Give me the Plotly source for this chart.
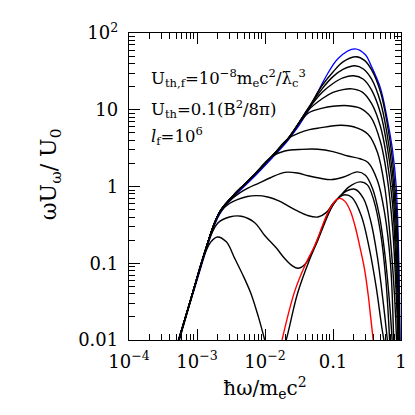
import plotly.graph_objects as go

# ---------------- data ----------------
# shared steep low-energy rise of the black curves
ramp_x = [5.4e-4, 8.7e-4, 1.37e-3, 1.8e-3, 2.27e-3, 3.5e-3, 6.3e-3, 0.0125, 0.0218]
ramp_y = [0.01, 0.042, 0.16, 0.33, 0.5, 0.78, 1.3, 2.45, 4.2]

blue_x = [5.3e-4, 8.7e-4, 1.37e-3, 1.8e-3, 2.27e-3, 3.5e-3, 6.3e-3, 0.0125, 0.0218, 0.043,
          0.075, 0.12, 0.21, 0.3, 0.366, 0.5, 0.62, 0.75, 0.85, 0.92, 0.97]
blue_y = [0.01, 0.04, 0.15, 0.31, 0.47, 0.74, 1.23, 2.32, 3.98, 9.6,
          25, 47, 62, 52, 37, 19, 8, 3, 1.0, 0.15, 0.01]

red_x = [0.0178, 0.0273, 0.04, 0.054, 0.0845, 0.11, 0.126, 0.15, 0.18, 0.21,
         0.25, 0.29, 0.33, 0.36, 0.39]
red_y = [0.01, 0.043, 0.1, 0.17, 0.46, 0.66, 0.70, 0.64, 0.48, 0.31,
         0.16, 0.085, 0.038, 0.019, 0.01]

k1_x = ramp_x + [0.043, 0.07, 0.1, 0.14, 0.22, 0.29, 0.37, 0.5, 0.62, 0.75, 0.88, 0.955]
k1_y = ramp_y + [10.4, 21, 31, 42, 49, 44, 33, 17, 7, 2.2, 0.3, 0.01]
k2_x = ramp_x + [0.043, 0.07, 0.1, 0.14, 0.21, 0.28, 0.37, 0.5, 0.62, 0.75, 0.87, 0.945]
k2_y = ramp_y + [10.3, 19, 27, 33.5, 37.4, 34, 25, 12.5, 5, 1.5, 0.2, 0.01]
k3_x = ramp_x + [0.043, 0.07, 0.1, 0.14, 0.2, 0.28, 0.37, 0.5, 0.62, 0.75, 0.86, 0.935]
k3_y = ramp_y + [10.1, 17, 22, 26, 27.7, 25, 18, 9, 3.5, 1.0, 0.12, 0.01]
k4_x = ramp_x + [0.043, 0.07, 0.1, 0.14, 0.19, 0.27, 0.37, 0.5, 0.62, 0.75, 0.85, 0.92]
k4_y = ramp_y + [9.8, 14, 16.8, 18.3, 18.7, 17, 12, 6, 2.3, 0.6, 0.08, 0.01]
k5_x = ramp_x + [0.043, 0.07, 0.1, 0.165, 0.25, 0.36, 0.5, 0.62, 0.75, 0.85, 0.9]
k5_y = ramp_y + [9.0, 10.5, 11.1, 11.3, 10.5, 8.0, 3.8, 1.4, 0.3, 0.04, 0.01]
k6_x = ramp_x + [0.032, 0.045, 0.067, 0.095, 0.132, 0.2, 0.327, 0.45, 0.575, 0.7, 0.8, 0.86]
k6_y = ramp_y + [5.0, 5.5, 5.84, 6.15, 6.27, 6.0, 4.8, 2.8, 1.0, 0.2, 0.04, 0.01]
k7_x = ramp_x[:8] + [0.0195, 0.035, 0.06, 0.1, 0.166, 0.25, 0.327, 0.45, 0.575, 0.7, 0.78]
k7_y = ramp_y[:8] + [2.9, 3.05, 3.06, 2.85, 2.5, 2.3, 2.06, 1.2, 0.45, 0.1, 0.01]
k8_x = ramp_x[:5] + [3.2e-3, 4.2e-3, 5.6e-3, 8e-3, 0.012, 0.0195, 0.03, 0.043, 0.065, 0.094,
                     0.14, 0.23, 0.3, 0.38, 0.48, 0.58, 0.68, 0.74]
k8_y = ramp_y[:5] + [0.68, 0.82, 0.95, 1.1, 1.3, 1.53, 1.5, 1.38, 1.28, 1.23,
                     1.32, 1.55, 1.4, 0.95, 0.42, 0.13, 0.03, 0.01]
k9_x = ramp_x[:4] + [2.27e-3, 3e-3, 4e-3, 5.5e-3, 7.5e-3, 0.011, 0.016, 0.0218, 0.03, 0.042,
                     0.06, 0.08, 0.1, 0.125, 0.17, 0.25, 0.32, 0.4, 0.5, 0.6, 0.68]
k9_y = ramp_y[:4] + [0.48, 0.6, 0.68, 0.74, 0.76, 0.73, 0.65, 0.56, 0.48, 0.42,
                     0.40, 0.46, 0.6, 0.73, 0.98, 1.15, 1.05, 0.65, 0.25, 0.06, 0.01]
k10_x = ramp_x[:3] + [2e-3, 3e-3, 4.5e-3, 7e-3, 0.0099, 0.0145, 0.0195, 0.025, 0.031, 0.04,
                      0.06, 0.085, 0.125, 0.16, 0.21, 0.28, 0.36, 0.45, 0.55, 0.63]
k10_y = ramp_y[:3] + [0.33, 0.40, 0.41, 0.34, 0.23, 0.16, 0.115, 0.093, 0.086, 0.1,
                      0.21, 0.45, 0.74, 0.88, 0.92, 0.7, 0.35, 0.12, 0.03, 0.01]
# lowest black curve: low-energy hump, then it dips out of the frame and returns
k11_x = [5.5e-4, 8.7e-4, 1.2e-3, 1.6e-3, 2.0e-3, 2.7e-3, 3.6e-3, 5e-3, 6.3e-3, 8e-3, 0.0099, 0.012,
         None,
         0.017, 0.0205, 0.03, 0.045, 0.06, 0.085, 0.105, 0.125, 0.15, 0.19, 0.26, 0.34, 0.43, 0.52, 0.56]
k11_y = [0.01, 0.041, 0.11, 0.19, 0.22, 0.19, 0.115, 0.063, 0.039, 0.02, 0.01, 0.005,
         None,
         0.006, 0.01, 0.04, 0.11, 0.2, 0.43, 0.62, 0.73, 0.78, 0.72, 0.42, 0.16, 0.05, 0.015, 0.01]

black_curves = [(k1_x, k1_y), (k2_x, k2_y), (k3_x, k3_y), (k4_x, k4_y), (k5_x, k5_y),
                (k6_x, k6_y), (k7_x, k7_y), (k8_x, k8_y), (k9_x, k9_y), (k10_x, k10_y),
                (k11_x, k11_y)]

x_tickvals = [1e-4, 1e-3, 1e-2, 0.1, 1]
x_ticktext = ["10<sup>−4</sup>", "10<sup>−3</sup>", "10<sup>−2</sup>", "0.1", "1"]
y_tickvals = [0.01, 0.1, 1, 10, 100]
y_ticktext = ["0.01", "0.1", "1", "10", "10<sup>2</sup>"]

FONT = "DejaVu Serif"

fig = go.Figure()

# blue first, so the black bundle sits on top of it along the shared rise
fig.add_trace(go.Scatter(x=blue_x, y=blue_y, mode="lines",
                         line=dict(color="#0000ff", width=1.3, shape="spline", smoothing=1.0),
                         hoverinfo="skip"))

for cx, cy in black_curves:
    fig.add_trace(go.Scatter(x=cx, y=cy, mode="lines", connectgaps=False,
                             line=dict(color="black", width=1.4, shape="spline", smoothing=1.0),
                             hoverinfo="skip"))

fig.add_trace(go.Scatter(x=red_x, y=red_y, mode="lines",
                         line=dict(color="#ff0000", width=1.4, shape="spline", smoothing=1.0),
                         hoverinfo="skip"))

# minor ticks at 2..9 of each decade
x_minor = [m * 10.0 ** e for e in range(-4, 0) for m in range(2, 10)]
y_minor = [m * 10.0 ** e for e in range(-2, 2) for m in range(2, 10)]

axis_common = dict(
    type="log", showgrid=False, zeroline=False,
    showline=True, linecolor="black", linewidth=1.3, mirror="ticks",
    ticks="inside", ticklen=11, tickwidth=1, tickcolor="black",
    tickfont=dict(family=FONT, size=18, color="black"),
)

fig.update_xaxes(**axis_common, range=[-4, 0], tickmode="array",
                 tickvals=x_tickvals, ticktext=x_ticktext, ticklabelstandoff=5,
                 minor=dict(tickmode="array", tickvals=x_minor, ticks="inside",
                            ticklen=6, tickcolor="black", showgrid=False),
                 title=dict(text="ħω/m<sub>e</sub>c<sup>2</sup>",
                            font=dict(family=FONT, size=20, color="black"), standoff=10))
fig.update_yaxes(**axis_common, range=[-2, 2], tickmode="array",
                 tickvals=y_tickvals, ticktext=y_ticktext, ticklabelstandoff=6,
                 minor=dict(tickmode="array", tickvals=y_minor, ticks="inside",
                            ticklen=6, tickcolor="black", showgrid=False))

# y-axis title, placed where the reference has it (slightly above the axis middle)
fig.add_annotation(text="ωU<sub>ω</sub>/ U<sub>0</sub>", textangle=-90,
                   xref="paper", yref="paper", x=-0.29, y=0.54,
                   xanchor="center", yanchor="middle", showarrow=False,
                   font=dict(family=FONT, size=22, color="black"))

notes = [
    ("U<sub>th,f</sub>=10<sup>−8</sup>m<sub>e</sub>c<sup>2</sup>/λ\u0304<sub>c</sub><sup>3</sup>", 0.855),
    ("U<sub>th</sub>=0.1(B<sup>2</sup>/8π)", 0.752),
    ("<i>l</i><sub>f</sub>=10<sup>6</sup>", 0.665),
]
for txt, yp in notes:
    fig.add_annotation(text=txt, xref="paper", yref="paper", x=0.072, y=yp,
                       xanchor="left", yanchor="middle", showarrow=False,
                       font=dict(family=FONT, size=16.5, color="black"))

fig.update_layout(
    width=415, height=415,
    margin=dict(l=121, r=22, t=23, b=83),
    plot_bgcolor="white", paper_bgcolor="white",
    showlegend=False,
)

fig.write_html("out.html")
